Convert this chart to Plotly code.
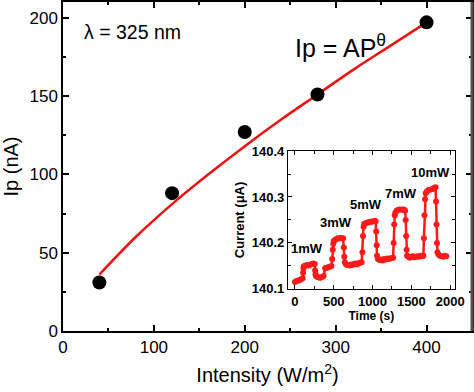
import plotly.graph_objects as go

# ---- main data ----
intensity = [40, 120, 200, 280, 400]
ip_na = [31, 88, 127, 151, 197]

# power-law fit curve
fit_intensity = [40, 80, 120, 160, 200, 240, 280, 320, 360, 400]
fit_ip = [36, 60, 81, 100, 118, 135, 151, 167, 182, 197]

# ---- inset data (time response) ----
time_s = [0, 20, 40, 60, 80, 100, 105, 110, 115,
          120, 140, 160, 180, 200, 220, 240, 255,
          260, 265, 270,
          290, 310, 330, 350, 370,
          390, 410, 430, 450, 470,
          480, 487, 494, 500,
          520, 540, 560, 580, 600, 620,
          630, 636, 642,
          660, 680, 700, 720, 740, 760, 780, 800, 820, 840, 860,
          870, 877, 884, 892,
          910, 930, 950, 970, 990, 1010, 1030, 1040,
          1047, 1053, 1058,
          1070, 1090, 1110, 1130, 1150, 1170, 1190, 1210, 1230, 1250, 1265,
          1272, 1279, 1286, 1295,
          1310, 1330, 1350, 1370, 1390, 1410, 1420,
          1427, 1433, 1439, 1445,
          1460, 1480, 1500, 1520, 1540, 1560, 1580, 1600, 1620, 1640, 1655,
          1662, 1669, 1676, 1685,
          1700, 1720, 1740, 1760, 1780, 1800, 1812,
          1818, 1824, 1830, 1836,
          1850, 1870, 1890, 1910, 1930, 1950]
current_ua = [140.115, 140.117, 140.118, 140.119, 140.121, 140.123, 140.135, 140.145, 140.149,
              140.150, 140.151, 140.152, 140.151, 140.153, 140.154, 140.155, 140.154,
              140.140, 140.132, 140.128,
              140.126, 140.125, 140.124, 140.126, 140.128,
              140.145, 140.146, 140.147, 140.148, 140.150,
              140.165, 140.185, 140.198, 140.204,
              140.207, 140.209, 140.210, 140.210, 140.211, 140.210,
              140.190, 140.170, 140.158,
              140.153, 140.152, 140.151, 140.153, 140.152, 140.154, 140.155, 140.153, 140.156, 140.157, 140.158,
              140.180, 140.215, 140.235, 140.241,
              140.243, 140.244, 140.245, 140.246, 140.246, 140.247, 140.248, 140.247,
              140.225, 140.195, 140.172,
              140.165, 140.163, 140.164, 140.162, 140.165, 140.164, 140.166, 140.165, 140.166, 140.167, 140.168,
              140.200, 140.240, 140.260, 140.266,
              140.270, 140.272, 140.273, 140.272, 140.273, 140.272, 140.270,
              140.250, 140.215, 140.185, 140.172,
              140.170, 140.168, 140.170, 140.171, 140.169, 140.170, 140.171, 140.170, 140.172, 140.171, 140.172,
              140.210, 140.260, 140.295, 140.308,
              140.312, 140.315, 140.316, 140.317, 140.318, 140.320, 140.321,
              140.290, 140.240, 140.200, 140.180,
              140.175, 140.172, 140.171, 140.170, 140.172, 140.171]

power_labels = ["1mW", "3mW", "5mW", "7mW", "10mW"]
label_t = [155, 530, 917, 1364, 1743]
label_i = [140.187, 140.244, 140.284, 140.308, 140.354]

FONT = "Liberation Sans, Arial, sans-serif"

fig = go.Figure()

fig.add_trace(go.Scatter(x=fit_intensity, y=fit_ip, mode="lines",
                         line=dict(color="#ee1111", width=2.5, shape="spline"),
                         showlegend=False, hoverinfo="skip"))
fig.add_trace(go.Scatter(x=intensity, y=ip_na, mode="markers",
                         marker=dict(color="black", size=14),
                         showlegend=False))

fig.add_trace(go.Scatter(x=time_s, y=current_ua, mode="lines+markers",
                         line=dict(color="#ff1a1a", width=2.5),
                         marker=dict(color="#ff1a1a", size=6),
                         xaxis="x2", yaxis="y2", showlegend=False))

main_axis = dict(showline=True, linecolor="black", linewidth=1.5, mirror="ticks",
                 ticks="inside", ticklen=6, tickwidth=1.5, tickcolor="black",
                 showgrid=False, zeroline=False, automargin=False,
                 tickfont=dict(family=FONT, size=17, color="black"))

inset_axis = dict(showline=True, linecolor="black", linewidth=1.2, mirror="ticks",
                  ticks="inside", ticklen=4, tickwidth=1, tickcolor="black",
                  showgrid=False, zeroline=False, automargin=False,
                  tickfont=dict(family=FONT, size=13, color="black", weight="bold"))

fig.update_layout(
    width=474, height=392,
    margin=dict(l=63, r=2, t=2, b=61),
    paper_bgcolor="white", plot_bgcolor="white",
    xaxis=dict(**main_axis, range=[0, 450], dtick=100,
               minor=dict(dtick=50, ticks="inside", ticklen=3, tickcolor="black"),
               title=dict(text="Intensity (W/m<sup>2</sup>)",
                          font=dict(family=FONT, size=20, color="black"), standoff=12)),
    yaxis=dict(**main_axis, range=[0, 210], dtick=50,
               minor=dict(dtick=25, ticks="inside", ticklen=3, tickcolor="black"),
               title=dict(text="Ip (nA)", font=dict(family=FONT, size=20, color="black"),
                          standoff=8)),
    xaxis2=dict(**inset_axis, domain=[0.550, 0.958], anchor="y2", range=[-90, 2060],
                dtick=500,
                minor=dict(dtick=250, ticks="inside", ticklen=2.5, tickcolor="black"),
                title=dict(text="Time (s)", font=dict(family=FONT, size=12, color="black",
                                                     weight="bold"), standoff=0)),
    yaxis2=dict(**inset_axis, domain=[0.128, 0.547], anchor="x2", range=[140.1, 140.4],
                dtick=0.1, tickformat=".1f",
                minor=dict(dtick=0.05, ticks="inside", ticklen=2.5, tickcolor="black"),
                title=dict(text="Current (\u03bcA)", font=dict(family=FONT, size=13,
                                                              color="black", weight="bold"),
                           standoff=4)),
    shapes=[dict(type="rect", xref="x2 domain", yref="y2 domain", x0=0, x1=1, y0=0, y1=1,
                 fillcolor="white", line=dict(width=0), layer="below"),
            dict(type="line", xref="paper", yref="paper", x0=1, x1=1, y0=0, y1=1,
                 line=dict(color="#555555", width=3))],
)

annotations = [
    dict(x=77, y=191, xref="x", yref="y", text="\u03bb = 325 nm", showarrow=False,
         font=dict(family=FONT, size=19.5, color="black")),
    dict(x=305, y=182, xref="x", yref="y", text="Ip = AP<sup>\u03b8</sup>", showarrow=False,
         font=dict(family=FONT, size=25, color="black")),
]
for lab, t, i in zip(power_labels, label_t, label_i):
    annotations.append(dict(x=t, y=i, xref="x2", yref="y2", text=lab, showarrow=False,
                            font=dict(family=FONT, size=13, color="black", weight="bold")))
fig.update_layout(annotations=annotations)

fig.write_html("out.html", config={"displayModeBar": False},
               post_script="document.body.style.margin='0';document.body.style.overflow='hidden';")
